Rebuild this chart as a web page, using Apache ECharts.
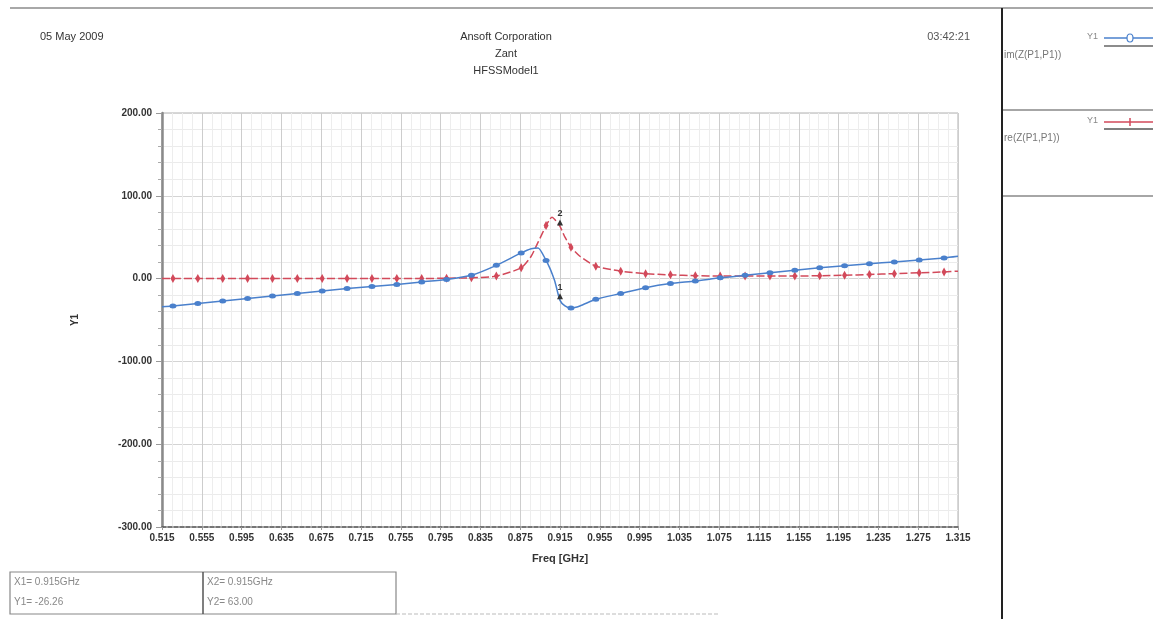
<!DOCTYPE html>
<html>
<head>
<meta charset="utf-8">
<script src="https://cdn.jsdelivr.net/npm/echarts@6/dist/echarts.min.js"></script>
<style>
  html, body { margin: 0; padding: 0; background: #fff; }
  #chart { width: 1153px; height: 619px; }
</style>
</head>
<body>
<div id="chart"></div>
<script>
// Frequency sweep (GHz) and the two impedance components
const freq = [0.515, 0.526, 0.551, 0.576, 0.601, 0.626, 0.651, 0.676, 0.701, 0.726,
  0.751, 0.776, 0.801, 0.826, 0.851, 0.876, 0.886, 0.893, 0.901, 0.905,
  0.907, 0.910, 0.915, 0.920, 0.926, 0.935, 0.951, 0.976, 1.001, 1.026,
  1.051, 1.076, 1.101, 1.126, 1.151, 1.176, 1.201, 1.226, 1.251, 1.276,
  1.301, 1.315];
const imZ = [-34, -33, -30, -27, -24, -21, -18, -15, -12, -9.5,
  -7, -4, -1, 4, 16, 31, 36, 37, 22, 12,
  6, -4, -26.26, -33, -35.5, -33, -25, -18, -11, -6,
  -3, 1, 4, 7, 10, 13, 15.5, 18, 20, 22.5,
  25, 27];
const reZ = [0, 0, 0, 0, 0, 0, 0, 0, 0, 0,
  0, 0, 0.5, 1, 3, 13, 27, 44, 64, 72,
  74, 71, 63, 50, 38, 27, 15, 9, 6, 4.5,
  3.5, 3, 3, 3, 3, 3.5, 4, 5, 6, 7,
  8, 9];

// Axis ranges / ticks
const xMin = 0.515, xMax = 1.315, xStep = 0.04;
const yMin = -300, yMax = 200, yStep = 100;

// Marker readout frequency
const markerFreq = 0.915;
const mIdx = freq.indexOf(markerFreq);

// Plot symbols are drawn every 0.025 GHz starting at 0.526
const symbolStart = 0.526, symbolStep = 0.025;
function onSymbolGrid(f) {
  const k = (f - symbolStart) / symbolStep;
  return Math.abs(k - Math.round(k)) < 1e-6 && k >= 0;
}

const imData = freq.map((f, i) => [f, imZ[i]]);
const reData = freq.map((f, i) => [f, reZ[i]]);

const FONT = 'Liberation Sans, Arial, sans-serif';
const BLUE = '#4a80cc';
const RED = '#d2495a';

const chart = echarts.init(document.getElementById('chart'), null, { renderer: 'canvas' });

const option = {
  backgroundColor: '#ffffff',
  animation: false,
  grid: { left: 162, top: 113, width: 796, height: 414, show: true, borderColor: '#b0b0b0', borderWidth: 1 },
  xAxis: {
    type: 'value',
    min: xMin, max: xMax, interval: xStep,
    name: 'Freq [GHz]', nameLocation: 'middle', nameGap: 26,
    nameTextStyle: { fontFamily: FONT, fontSize: 11, fontWeight: 'bold', color: '#333' },
    axisLine: { show: true, onZero: false, lineStyle: { color: '#555', width: 1.5, type: [4, 2] } },
    axisTick: { show: true, length: 3, lineStyle: { color: '#999' } },
    minorTick: { show: false, splitNumber: 4 },
    axisLabel: {
      margin: 6, fontFamily: FONT, fontSize: 10, fontWeight: 'bold', color: '#333',
      formatter: v => v.toFixed(3), showMinLabel: true, showMaxLabel: true
    },
    splitLine: { show: true, lineStyle: { color: '#cdcdcd', width: 1 } },
    minorSplitLine: { show: true, lineStyle: { color: '#ededed', width: 1 } }
  },
  yAxis: {
    type: 'value',
    min: yMin, max: yMax, interval: yStep,
    name: 'Y1', nameLocation: 'middle', nameGap: 82, nameRotate: 90,
    nameTextStyle: { fontFamily: FONT, fontSize: 10, fontWeight: 'bold', color: '#333' },
    axisLine: { show: true, onZero: false, lineStyle: { color: '#8a8a8a', width: 2.5 } },
    axisTick: { show: true, length: 6, lineStyle: { color: '#999' } },
    minorTick: { show: true, splitNumber: 5, length: 4, lineStyle: { color: '#aaa' } },
    axisLabel: {
      margin: 10, fontFamily: FONT, fontSize: 10, fontWeight: 'bold', color: '#333',
      formatter: v => v.toFixed(2)
    },
    splitLine: { show: true, lineStyle: { color: '#d4d4d4', width: 1 } },
    minorSplitLine: { show: true, lineStyle: { color: '#ebebeb', width: 1 } }
  },
  series: [
    {
      name: 're(Z(P1,P1))',
      type: 'line',
      data: reData,
      smooth: 0.2,
      showAllSymbol: true,
      symbol: v => onSymbolGrid(v[0]) ? 'diamond' : 'none',
      symbolSize: [5, 9],
      itemStyle: { color: RED },
      lineStyle: { color: RED, width: 1.5, type: [8, 3] },
      z: 3,
      markPoint: {
        symbol: 'triangle', symbolSize: 6, symbolOffset: [0, -4],
        itemStyle: { color: '#333' },
        label: { show: true, position: 'top', distance: 1, fontFamily: FONT, fontSize: 9, fontWeight: 'bold', color: '#333', formatter: '2' },
        data: [{ coord: [markerFreq, reZ[mIdx]] }]
      }
    },
    {
      name: 'im(Z(P1,P1))',
      type: 'line',
      data: imData,
      smooth: 0.2,
      showAllSymbol: true,
      symbol: v => onSymbolGrid(v[0]) ? 'circle' : 'none',
      symbolSize: [7, 5],
      itemStyle: { color: BLUE },
      lineStyle: { color: BLUE, width: 1.5 },
      z: 4,
      markPoint: {
        symbol: 'triangle', symbolSize: 6, symbolOffset: [0, -4],
        itemStyle: { color: '#333' },
        label: { show: true, position: 'top', distance: 1, fontFamily: FONT, fontSize: 9, fontWeight: 'bold', color: '#333', formatter: '1' },
        data: [{ coord: [markerFreq, imZ[mIdx]] }]
      }
    }
  ],
  graphic: [
    // page frame lines
    { type: 'line', shape: { x1: 10, y1: 8, x2: 1153, y2: 8 }, style: { stroke: '#a8a8a8', lineWidth: 2 } },
    { type: 'line', shape: { x1: 1002, y1: 8, x2: 1002, y2: 619 }, style: { stroke: '#222', lineWidth: 2 } },
    // header
    { type: 'text', left: 40, top: 31, style: { text: '05 May 2009', font: '11px ' + FONT, fill: '#333' } },
    { type: 'text', x: 506, y: 31, style: { text: 'Ansoft Corporation', font: '11px ' + FONT, fill: '#333', textAlign: 'center' } },
    { type: 'text', x: 506, y: 48, style: { text: 'Zant', font: '11px ' + FONT, fill: '#333', textAlign: 'center' } },
    { type: 'text', x: 506, y: 65, style: { text: 'HFSSModel1', font: '11px ' + FONT, fill: '#333', textAlign: 'center' } },
    { type: 'text', x: 970, y: 31, style: { text: '03:42:21', font: '11px ' + FONT, fill: '#555', textAlign: 'right' } },
    // legend panel: im(Z)
    { type: 'text', x: 1098, y: 32, style: { text: 'Y1', font: '9px ' + FONT, fill: '#888', textAlign: 'right' } },
    { type: 'line', shape: { x1: 1104, y1: 38, x2: 1153, y2: 38 }, style: { stroke: BLUE, lineWidth: 1.5 } },
    { type: 'ellipse', shape: { cx: 1130, cy: 38, rx: 3, ry: 4 }, style: { stroke: BLUE, fill: '#fff', lineWidth: 1.2 } },
    { type: 'line', shape: { x1: 1104, y1: 46, x2: 1153, y2: 46 }, style: { stroke: '#666', lineWidth: 1.5 } },
    { type: 'text', x: 1004, y: 50, style: { text: 'im(Z(P1,P1))', font: '10px ' + FONT, fill: '#777' } },
    { type: 'line', shape: { x1: 1003, y1: 110, x2: 1153, y2: 110 }, style: { stroke: '#888', lineWidth: 1.5 } },
    // legend panel: re(Z)
    { type: 'text', x: 1098, y: 116, style: { text: 'Y1', font: '9px ' + FONT, fill: '#888', textAlign: 'right' } },
    { type: 'line', shape: { x1: 1104, y1: 122, x2: 1153, y2: 122 }, style: { stroke: RED, lineWidth: 1.5 } },
    { type: 'line', shape: { x1: 1130, y1: 118, x2: 1130, y2: 126 }, style: { stroke: RED, lineWidth: 1.5 } },
    { type: 'line', shape: { x1: 1104, y1: 129, x2: 1153, y2: 129 }, style: { stroke: '#555', lineWidth: 1.5 } },
    { type: 'text', x: 1004, y: 133, style: { text: 're(Z(P1,P1))', font: '10px ' + FONT, fill: '#777' } },
    { type: 'line', shape: { x1: 1003, y1: 196, x2: 1153, y2: 196 }, style: { stroke: '#888', lineWidth: 1.5 } },
    // marker readout table
    { type: 'rect', shape: { x: 10, y: 572, width: 386, height: 42 }, style: { stroke: '#888', fill: 'none', lineWidth: 1.2 } },
    { type: 'line', shape: { x1: 203, y1: 572, x2: 203, y2: 614 }, style: { stroke: '#555', lineWidth: 1.5 } },
    { type: 'line', shape: { x1: 396, y1: 614, x2: 720, y2: 614 }, style: { stroke: '#bbb', lineWidth: 1, lineDash: [4, 2] } },
    { type: 'text', x: 14, y: 577, style: { text: 'X1= ' + markerFreq.toFixed(3) + 'GHz', font: '10px ' + FONT, fill: '#888' } },
    { type: 'text', x: 14, y: 597, style: { text: 'Y1= ' + imZ[mIdx].toFixed(2), font: '10px ' + FONT, fill: '#888' } },
    { type: 'text', x: 207, y: 577, style: { text: 'X2= ' + markerFreq.toFixed(3) + 'GHz', font: '10px ' + FONT, fill: '#888' } },
    { type: 'text', x: 207, y: 597, style: { text: 'Y2= ' + reZ[mIdx].toFixed(2), font: '10px ' + FONT, fill: '#888' } }
  ]
};

chart.setOption(option);
</script>
</body>
</html>
